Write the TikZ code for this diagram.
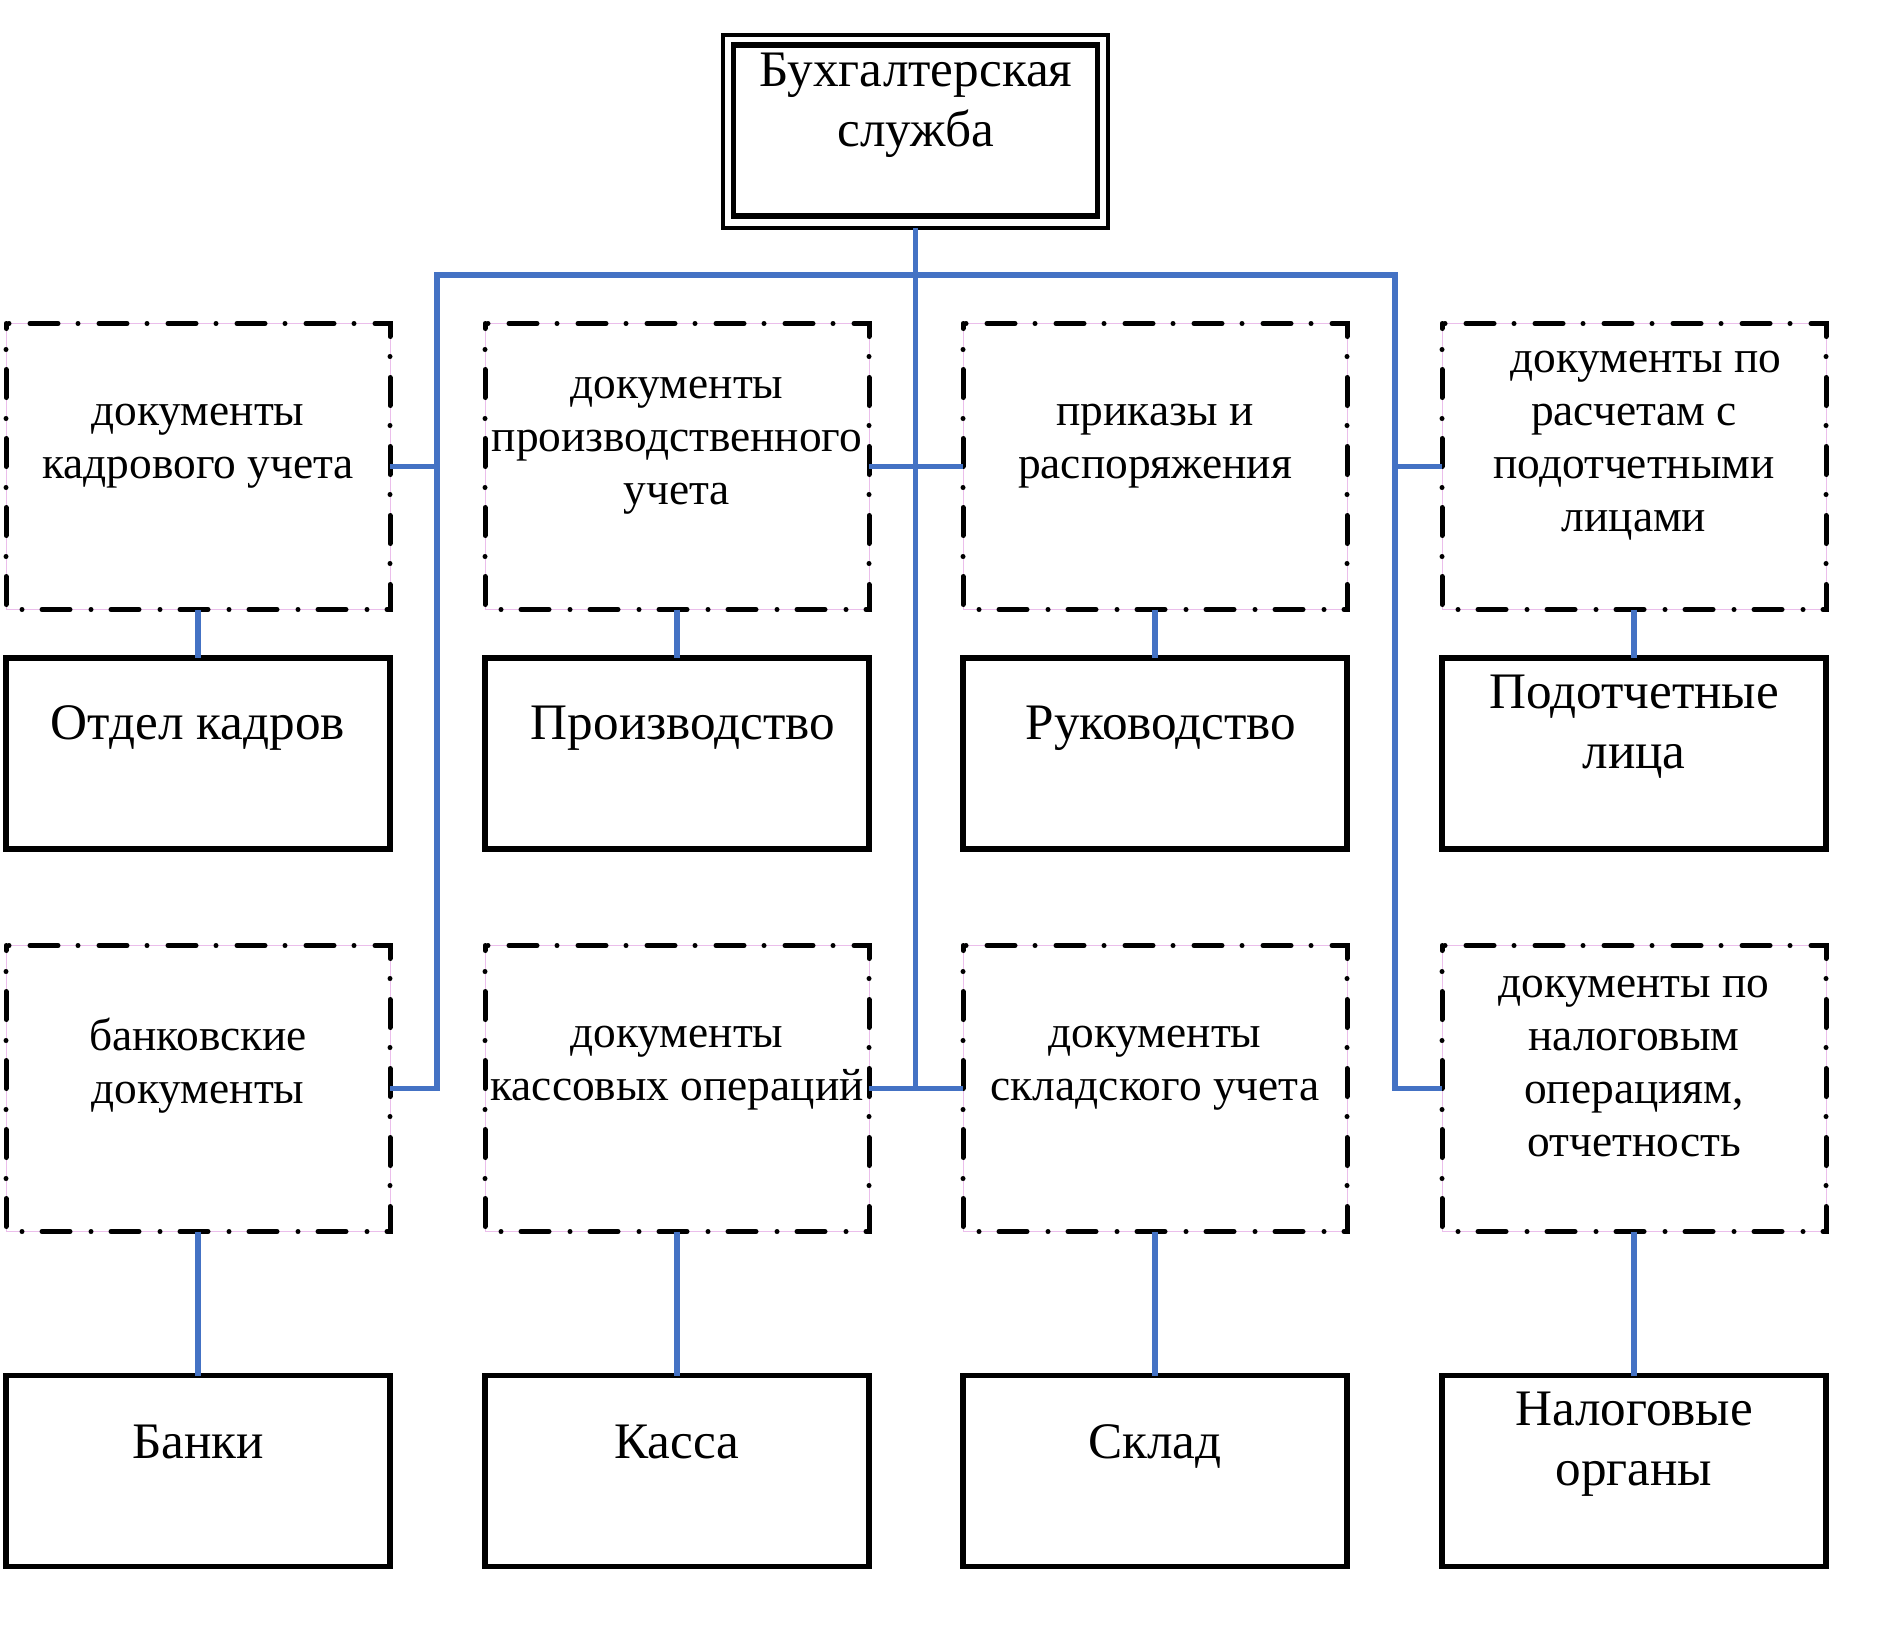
\documentclass[tikz,border=0pt]{standalone}
\usepackage{fontspec}
\setmainfont{Liberation Serif}
\definecolor{linkblue}{RGB}{68,114,196}
\definecolor{pinkline}{RGB}{235,190,235}
\tikzset{
  conn/.style={draw=linkblue, line width=2.7pt},
  docbox/.style={rectangle, outer sep=0pt, inner sep=0pt,
    minimum width=192pt, minimum height=143pt,
    draw=pinkline, line width=0.4pt},
  dashedge/.style={draw=black, line width=2.5pt, line cap=round,
    dash pattern=on 0pt off 10.5pt on 14pt off 10pt, dash phase=33pt},
  unitbox/.style={rectangle, draw=black, line width=2.6pt, outer sep=0pt,
    inner sep=0pt, minimum width=192pt, minimum height=95.5pt},
  doctext/.style={font=\fontsize{22.7}{26.5}\selectfont, align=center, inner sep=0pt},
  unittext/.style={font=\fontsize{25.6}{30}\selectfont, align=center, inner sep=0pt},
}
\begin{document}
\begin{tikzpicture}[x=0.5pt, y=-0.5pt]
\useasboundingbox (0,0) rectangle (1900,1635);

% title double frame
\node[rectangle, draw=black, line width=2.1pt, outer sep=0pt, inner sep=0pt,
      minimum width=192.5pt, minimum height=96.5pt] (title) at (915.5,131.5) {};
\node[rectangle, draw=black, line width=2.6pt, outer sep=0pt, inner sep=0pt,
      minimum width=182pt, minimum height=85.5pt] (titlein) at (915.5,130.5) {};
\node[unittext] (titletext) at (916,105) {Бухгалтерская\\служба};

% row 1 document boxes
\node[docbox] (d1) at (198,466.5) {};
\node[docbox] (d2) at (677,466.5) {};
\node[docbox] (d3) at (1155,466.5) {};
\node[docbox] (d4) at (1634,466.5) {};
\node[doctext] (t1) at (198,446) {документы\\кадрового учета};
\node[doctext] (t2) at (677,446) {документы\\производственного\\учета};
\node[doctext] (t3) at (1155,446) {приказы и\\распоряжения};
\node[doctext] (t4) at (1634,446) {\hspace*{12pt}документы по\\расчетам с\\подотчетными\\лицами};

% row 2 units
\node[unitbox] (u1) at (198,753.5) {};
\node[unitbox] (u2) at (677,753.5) {};
\node[unitbox] (u3) at (1155,753.5) {};
\node[unitbox] (u4) at (1634,753.5) {};
\node[unittext] (v1) at (198,728) {Отдел кадров};
\node[unittext] (v2) at (683,728) {Производство};
\node[unittext] (v3) at (1161,728) {Руководство};
\node[unittext] (v4) at (1634,727) {Подотчетные\\лица};

% row 3 document boxes
\node[docbox] (d5) at (198,1088.5) {};
\node[docbox] (d6) at (677,1088.5) {};
\node[docbox] (d7) at (1155,1088.5) {};
\node[docbox] (d8) at (1634,1088.5) {};
\node[doctext] (t5) at (198,1066) {банковские\\документы};
\node[doctext] (t6) at (677,1068) {документы\\кассовых операций};
\node[doctext] (t7) at (1155,1068) {документы\\складского учета};
\node[doctext] (t8) at (1634,1067) {документы по\\налоговым\\операциям,\\отчетность};

% dash-dot outlines of the document boxes
\foreach \b in {d1,d2,d3,d4,d5,d6,d7,d8}
  \draw[dashedge] (\b.north west) -- (\b.north east) -- (\b.south east)
                  -- (\b.south west) -- cycle;

% row 4 units
\node[unitbox] (u5) at (198,1471) {};
\node[unitbox] (u6) at (677,1471) {};
\node[unitbox] (u7) at (1155,1471) {};
\node[unitbox] (u8) at (1634,1471) {};
\node[unittext] (v5) at (198,1442) {Банки};
\node[unittext] (v6) at (677,1442) {Касса};
\node[unittext] (v7) at (1155,1446) {Склад};
\node[unittext] (v8) at (1634,1444) {Налоговые\\органы};

% connectors
\coordinate (jl) at (437,275);
\coordinate (jr) at (1395,275);
\draw[conn] (d5.east) -- (jl |- d5.east) -- (jl) -- (jr) -- (jr |- d8.west) -- (d8.west);
\draw[conn] (title.south) -- (title.south |- d6.east);
\draw[conn] (d1.east) -- (jl |- d1.east);
\draw[conn] (d4.west) -- (jr |- d4.west);
\draw[conn] (d2.east) -- (d3.west);
\draw[conn] (d6.east) -- (d7.west);
\foreach \i/\j in {1/1,2/2,3/3,4/4,5/5,6/6,7/7,8/8}
  \draw[conn] (d\i.south) -- (u\j.north);
\end{tikzpicture}
\end{document}
